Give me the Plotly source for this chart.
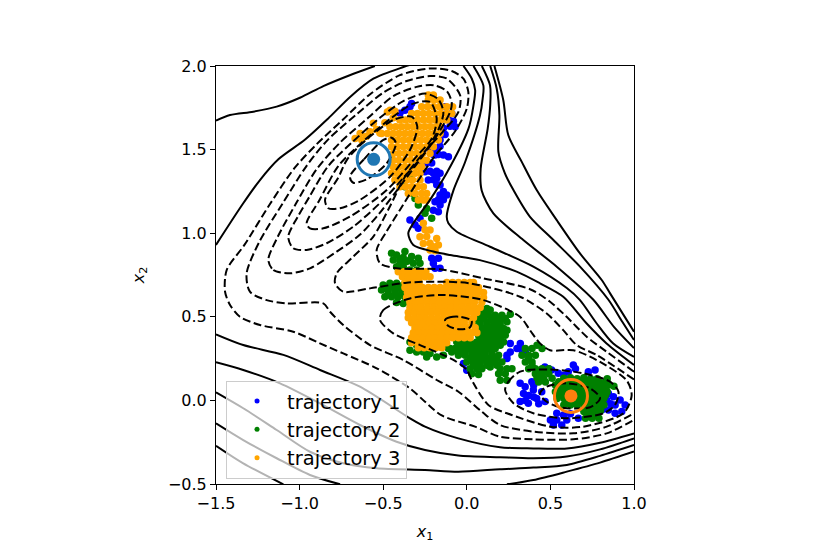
import plotly.graph_objects as go

# contour lines, (x1, x2) pairs
solid_top_left = [(-1.5, 1.673), (-1.416, 1.707), (-1.277, 1.727), (-1.137, 1.757), (-0.998, 1.81), (-0.858, 1.88),
                  (-0.70, 1.945), (-0.55, 2.0)]
solid_left_arc = [(-1.5, 0.93), (-1.337, 1.179), (-1.237, 1.318), (-1.127, 1.442), (-0.967, 1.56), (-0.83, 1.685),
                  (-0.698, 1.815), (-0.559, 1.924), (-0.379, 1.994), (-0.33, 2.01)]
solid_l5 = [(-0.02, 2.0), (0.03, 1.924), (0.05, 1.855), (0.04, 1.765), (0.01, 1.625), (-0.121, 1.358), (-0.221, 1.198),
            (-0.32, 1.059), (-0.35, 0.999), (-0.32, 0.929), (-0.2, 0.89), (-0.10, 0.869), (0.078, 0.839), (0.298, 0.77),
            (0.438, 0.70), (0.577, 0.62), (0.717, 0.46), (0.836, 0.341), (1.0, 0.212)]
solid_a = [(0.04, 2.0), (0.099, 1.884), (0.095, 1.805), (0.079, 1.705), (-0.01, 1.426), (-0.08, 1.256), (-0.12, 1.098),
           (-0.11, 1.059), (-0.06, 1.009), (0.139, 0.919), (0.398, 0.80), (0.598, 0.672), (0.677, 0.60), (0.777, 0.46),
           (0.876, 0.34), (1.0, 0.26)]
solid_b = [(0.09, 2.0), (0.139, 1.884), (0.14, 1.765), (0.125, 1.625), (0.083, 1.386), (0.089, 1.256), (0.159, 1.118),
           (0.338, 0.959), (0.538, 0.80), (0.757, 0.602), (0.88, 0.44), (1.0, 0.313)]
solid_c = [(0.14, 2.0), (0.179, 1.864), (0.195, 1.705), (0.189, 1.486), (0.228, 1.358), (0.279, 1.258), (0.378, 1.098),
           (0.518, 0.959), (0.677, 0.80), (0.847, 0.602), (0.93, 0.47), (1.0, 0.361)]
solid_d = [(0.165, 2.0), (0.218, 1.797), (0.248, 1.587), (0.328, 1.428), (0.418, 1.258), (0.538, 1.078), (0.677, 0.879),
           (0.807, 0.72), (0.857, 0.64), (1.0, 0.411)]
solid_low_a = [(-1.5, 0.395), (-1.337, 0.331), (-1.097, 0.272), (-0.878, 0.182), (-0.639, 0.082), (-0.34, -0.107),
               (-0.25, -0.157), (-0.051, -0.227), (0.199, -0.28), (0.398, -0.287), (0.598, -0.287), (0.797, -0.253),
               (1.0, -0.197)]
solid_low_b = [(-1.5, 0.228), (-1.337, 0.182), (-1.117, 0.102), (-0.878, -0.018), (-0.639, -0.147), (-0.42, -0.247),
               (-0.25, -0.297), (-0.051, -0.33), (0.199, -0.34), (0.398, -0.346), (0.598, -0.336), (0.797, -0.293),
               (1.0, -0.227)]
solid_low_c = [(-1.5, 0.048), (-1.337, -0.047), (-1.137, -0.177), (-0.938, -0.307), (-0.739, -0.376), (-0.539, -0.406),
               (-0.25, -0.416), (-0.051, -0.426), (0.199, -0.412), (0.398, -0.402), (0.598, -0.386), (0.797, -0.332),
               (1.0, -0.267)]
solid_low_d1 = [(-1.5, -0.137), (-1.337, -0.237), (-1.137, -0.346), (-0.938, -0.446), (-0.758, -0.502)]
solid_low_d2 = [(0.24, -0.502), (0.398, -0.476), (0.598, -0.426), (0.797, -0.372), (1.0, -0.306)]
solid_low_e = [(-1.5, -0.271), (-1.337, -0.376), (-1.097, -0.502)]

dash_m20 = [(1.0, 0.172), (0.836, 0.291), (0.717, 0.381), (0.597, 0.50), (0.498, 0.59), (0.378, 0.665), (0.099, 0.73),
            (-0.16, 0.784), (-0.42, 0.79), (-0.519, 0.82), (-0.539, 0.90), (-0.48, 1.01), (-0.40, 1.139), (-0.30, 1.30),
            (-0.2, 1.45), (-0.07, 1.61), (0.0, 1.745), (0.009, 1.845), (-0.02, 1.924), (-0.09, 1.97), (-0.22, 1.985),
            (-0.40, 1.945), (-0.58, 1.83), (-0.74, 1.68), (-0.90, 1.53), (-1.03, 1.39), (-1.18, 1.17), (-1.33, 0.93),
            (-1.436, 0.78), (-1.446, 0.65), (-1.416, 0.571), (-1.357, 0.5), (-1.237, 0.451),
            (-1.038, 0.411), (-0.878, 0.341), (-0.739, 0.281), (-0.539, 0.192), (-0.34, 0.072), (-0.25, -0.008),
            (-0.15, -0.09), (0.049, -0.157), (0.199, -0.217), (0.398, -0.233), (0.638, -0.233), (0.837, -0.197),
            (1.0, -0.117)]
dash_m40 = [(1.0, 0.125), (0.777, 0.271), (0.657, 0.331), (0.577, 0.42), (0.478, 0.52), (0.318, 0.62), (0.019, 0.70),
            (-0.18, 0.71), (-0.36, 0.704), (-0.579, 0.67), (-0.739, 0.65), (-0.788, 0.70), (-0.778, 0.76), (-0.679, 0.86),
            (-0.559, 0.98), (-0.46, 1.16), (-0.37, 1.338), (-0.25, 1.49), (-0.14, 1.61), (-0.05, 1.725), (-0.04, 1.825),
            (-0.12, 1.925), (-0.22, 1.94), (-0.36, 1.91), (-0.50, 1.84), (-0.66, 1.71), (-0.83, 1.56), (-0.96, 1.40),
            (-1.10, 1.18), (-1.24, 0.95), (-1.317, 0.76), (-1.297, 0.65),
            (-1.197, 0.60), (-1.078, 0.58), (-0.858, 0.58), (-0.818, 0.53), (-0.739, 0.451), (-0.579, 0.331),
            (-0.38, 0.242), (-0.18, 0.122), (-0.05, 0.052), (0.089, -0.067), (0.199, -0.147), (0.398, -0.187),
            (0.638, -0.197), (0.837, -0.157), (1.0, -0.077)]
dash_m60_top = [(-1.187, 0.84), (-1.157, 0.78), (-1.058, 0.76), (-0.938, 0.79), (-0.778, 0.89), (-0.64, 0.99),
                (-0.53, 1.11), (-0.43, 1.24), (-0.31, 1.40), (-0.2, 1.55), (-0.10, 1.725), (-0.09, 1.78), (-0.12, 1.85),
                (-0.2, 1.885), (-0.30, 1.875), (-0.44, 1.82), (-0.59, 1.69), (-0.76, 1.54), (-0.90, 1.38), (-1.02, 1.18),
                (-1.13, 0.98), (-1.187, 0.84)]
dash_m60_low = [(-0.519, 0.481), (-0.5, 0.54), (-0.34, 0.61), (-0.14, 0.63), (0.099, 0.60), (0.318, 0.50), (0.378, 0.42),
                (0.438, 0.341), (0.498, 0.30), (0.637, 0.30), (0.777, 0.241), (0.956, 0.12), (0.986, 0.03), (0.937, -0.077),
                (0.697, -0.157), (0.498, -0.157), (0.268, -0.087), (0.129, -0.027), (0.029, 0.122), (0.0, 0.182),
                (-0.08, 0.242), (-0.28, 0.331), (-0.44, 0.401), (-0.519, 0.481)]
dash_m80_top = [(-1.068, 0.979), (-1.038, 0.91), (-0.958, 0.90), (-0.838, 0.94), (-0.679, 1.039), (-0.5, 1.199),
                (-0.38, 1.33), (-0.26, 1.47), (-0.17, 1.62), (-0.14, 1.72), (-0.17, 1.80), (-0.25, 1.835), (-0.38, 1.79),
                (-0.52, 1.69), (-0.69, 1.54), (-0.83, 1.40), (-0.94, 1.22), (-1.01, 1.10), (-1.068, 0.979)]
dash_m80_mid = [(-0.13, 0.481), (-0.10, 0.497), (-0.04, 0.50), (0.029, 0.477), (0.019, 0.437), (-0.04, 0.425), (-0.11, 0.445),
                (-0.13, 0.481)]
dash_m80_low = [(0.229, 0.062), (0.249, 0.112), (0.319, 0.172), (0.498, 0.185), (0.697, 0.162), (0.857, 0.112), (0.907, 0.052),
                (0.887, -0.027), (0.817, -0.077), (0.598, -0.107), (0.398, -0.077), (0.279, -0.017), (0.229, 0.062)]
dash_m100_top = [(-0.958, 1.059), (-0.938, 1.029), (-0.858, 1.029), (-0.699, 1.099), (-0.479, 1.258), (-0.3, 1.46),
                 (-0.21, 1.565), (-0.18, 1.685), (-0.22, 1.785), (-0.32, 1.775), (-0.45, 1.69), (-0.63, 1.54),
                 (-0.77, 1.40), (-0.88, 1.20), (-0.958, 1.059)]
dash_m100_low = [(0.438, 0.042), (0.478, 0.082), (0.598, 0.102), (0.737, 0.072), (0.797, 0.013), (0.737, -0.041),
                 (0.558, -0.041), (0.468, -0.001), (0.438, 0.042)]
dash_m120 = [(-0.848, 1.199), (-0.828, 1.149), (-0.758, 1.149), (-0.639, 1.199), (-0.459, 1.338), (-0.34, 1.498),
             (-0.296, 1.637), (-0.33, 1.697), (-0.44, 1.677), (-0.60, 1.56), (-0.715, 1.442), (-0.77, 1.33),
             (-0.848, 1.199)]
dash_m140 = [(-0.699, 1.338), (-0.615, 1.442), (-0.499, 1.558), (-0.45, 1.571), (-0.424, 1.538), (-0.479, 1.418),
             (-0.599, 1.322), (-0.679, 1.302), (-0.699, 1.338)]

solid_paths = [solid_top_left, solid_left_arc, solid_l5, solid_a, solid_b, solid_c, solid_d, solid_low_a, solid_low_b,
               solid_low_c, solid_low_d1, solid_low_d2, solid_low_e]
dash_paths = [dash_m20, dash_m40, dash_m60_top, dash_m60_low, dash_m80_top, dash_m80_mid, dash_m80_low, dash_m100_top,
              dash_m100_low, dash_m120, dash_m140]

# trajectory samples, estimated from the blobs in the picture
traj1 = [(-0.40, 1.717), (-0.37, 1.735), (-0.34, 1.756), (-0.33, 1.776), (-0.13, 1.756), (-0.09, 1.716), (-0.07, 1.637),
         (-0.11, 1.68), (-0.08, 1.67), (-0.10, 1.64),
         (-0.14, 1.627), (-0.16, 1.597), (-0.13, 1.59), (-0.16, 1.557), (-0.18, 1.497), (-0.22, 1.497), (-0.18, 1.507),
         (-0.14, 1.467), (-0.16, 1.52), (-0.20, 1.47), (-0.17, 1.47),
         (-0.11, 1.457), (-0.19, 1.467), (-0.27, 1.418), (-0.24, 1.42), (-0.21, 1.42), (-0.25, 1.368), (-0.20, 1.358), (-0.16, 1.358),
         (-0.23, 1.318), (-0.22, 1.37), (-0.18, 1.37), (-0.20, 1.32),
         (-0.18, 1.328), (-0.16, 1.288), (-0.18, 1.29), (-0.16, 1.228), (-0.12, 1.228), (-0.14, 1.25), (-0.19, 1.188), (-0.16, 1.168),
         (-0.17, 1.20), (-0.20, 1.138), (-0.14, 1.20),
         (-0.17, 1.128), (-0.34, 1.079), (-0.29, 1.029), (-0.28, 1.089), (-0.31, 1.05), (-0.21, 0.85), (-0.17, 0.85),
         (-0.20, 0.82), (-0.16, 0.79), (-0.19, 0.79), (-0.02, 0.22), (0.0, 0.18), (0.26, 0.34), (0.32, 0.34), (0.24, 0.27),
         (0.33, 0.30), (0.35, 0.29), (0.26, 0.29), (0.24, 0.25), (0.30, 0.31), (0.319, 0.102), (0.349, 0.082), (0.389, 0.112),
         (0.398, 0.062), (0.339, 0.042), (0.319, -0.007), (0.368, -0.017), (0.418, 0.012), (0.448, 0.052), (0.468, -0.007),
         (0.37, 0.03), (0.40, 0.09), (0.35, 0.0), (0.40, 0.02), (0.43, -0.02), (0.538, -0.077), (0.578, -0.087), (0.518, -0.147), (0.568, -0.147), (0.538, -0.117),
         (0.598, -0.117), (0.50, -0.117), (0.667, -0.107), (0.62, -0.08), (0.847, 0.042), (0.877, 0.022), (0.837, 0.002),
         (0.887, -0.027), (0.917, 0.002), (0.947, -0.027), (0.927, -0.067), (0.887, -0.077), (0.847, -0.057), (0.807, -0.057),
         (0.86, -0.02), (0.637, 0.212), (0.607, 0.172), (0.727, 0.172), (0.767, 0.182), (0.507, 0.182), (0.467, 0.20),
         (0.547, 0.162), (0.65, 0.19), (0.49, 0.19), (0.58, 0.15)]
traj2 = [(-0.34, 1.338), (-0.37, 1.278), (-0.31, 1.208), (-0.33, 1.24), (-0.24, 1.148), (-0.21, 1.089), (-0.25, 1.119),
         (-0.29, 1.168),
         (-0.45, 0.88), (-0.42, 0.87), (-0.37, 0.89), (-0.33, 0.86), (-0.29, 0.85), (-0.44, 0.84), (-0.40, 0.84), (-0.36, 0.83),
         (-0.32, 0.82), (-0.28, 0.82), (-0.42, 0.80), (-0.38, 0.80), (-0.34, 0.78), (-0.30, 0.78),
         (-0.50, 0.69), (-0.46, 0.70), (-0.42, 0.70), (-0.38, 0.69), (-0.51, 0.66), (-0.47, 0.66), (-0.43, 0.66), (-0.39, 0.66),
         (-0.49, 0.62), (-0.45, 0.62), (-0.41, 0.62), (-0.37, 0.62), (-0.42, 0.585), (-0.38, 0.58),
         (-0.34, 0.35), (-0.30, 0.33), (-0.34, 0.30), (-0.30, 0.29), (-0.26, 0.29), (-0.22, 0.28), (-0.18, 0.26), (-0.24, 0.26),
         (-0.14, 0.27), (-0.10, 0.31),
         (0.08, 0.55), (0.12, 0.55), (0.14, 0.54), (0.05, 0.51), (0.09, 0.51), (0.13, 0.51), (0.17, 0.51), (0.21, 0.51), (0.26, 0.515),
         (0.04, 0.47), (0.08, 0.47), (0.12, 0.47), (0.16, 0.47), (0.20, 0.47), (0.24, 0.47),
         (0.06, 0.43), (0.10, 0.43), (0.14, 0.43), (0.18, 0.43), (0.22, 0.43), (0.24, 0.42),
         (0.07, 0.39), (0.11, 0.39), (0.15, 0.39), (0.19, 0.39), (0.23, 0.39),
         (-0.06, 0.35), (-0.02, 0.35), (0.02, 0.35), (0.06, 0.35), (0.10, 0.35), (0.14, 0.35), (0.18, 0.35), (0.22, 0.35),
         (-0.11, 0.31), (-0.07, 0.31), (-0.03, 0.31), (0.01, 0.31), (0.05, 0.31), (0.09, 0.31), (0.13, 0.31), (0.17, 0.31),
         (-0.05, 0.27), (-0.01, 0.27), (0.03, 0.27), (0.07, 0.27), (0.11, 0.27), (0.15, 0.27), (0.19, 0.27),
         (0.0, 0.23), (0.04, 0.23), (0.08, 0.23), (0.12, 0.23), (0.16, 0.23), (0.21, 0.23),
         (0.02, 0.19), (0.06, 0.19), (0.09, 0.19), (0.14, 0.20), (0.20, 0.19), (0.24, 0.19), (0.27, 0.19),
         (0.03, 0.16), (0.07, 0.155), (0.19, 0.16), (0.23, 0.16), (0.20, 0.12), (0.24, 0.12),
         (0.35, 0.31), (0.39, 0.31), (0.42, 0.33), (0.45, 0.31), (0.33, 0.27), (0.37, 0.27), (0.41, 0.27), (0.35, 0.23),
         (0.39, 0.23), (0.37, 0.19), (0.41, 0.19), (0.45, 0.19), (0.49, 0.19), (0.41, 0.16), (0.45, 0.15), (0.49, 0.16),
         (0.43, 0.11), (0.47, 0.11),
         (0.42, 0.135), (0.46, 0.13), (0.51, 0.132), (0.58, 0.132), (0.62, 0.135), (0.66, 0.13), (0.70, 0.135), (0.74, 0.13), (0.78, 0.13),
         (0.84, 0.13), (0.53, 0.092), (0.57, 0.092), (0.61, 0.092), (0.65, 0.092), (0.69, 0.092), (0.73, 0.092), (0.77, 0.092),
         (0.81, 0.092), (0.85, 0.092), (0.88, 0.085), (0.53, 0.052), (0.57, 0.052), (0.61, 0.052), (0.65, 0.052), (0.69, 0.052),
         (0.73, 0.052), (0.77, 0.052), (0.81, 0.052), (0.84, 0.052), (0.54, 0.012), (0.58, 0.012), (0.62, 0.012), (0.66, 0.012),
         (0.70, 0.012), (0.74, 0.012), (0.78, 0.012), (0.82, 0.012), (0.58, -0.027), (0.62, -0.027), (0.66, -0.027), (0.70, -0.027),
         (0.74, -0.027), (0.78, -0.027), (0.82, -0.027), (0.70, -0.067), (0.74, -0.067), (0.78, -0.067), (0.80, -0.06),
         (0.71, -0.107), (0.75, -0.107), (0.79, -0.107),
         # denser patches between the samples above
         (0.07, 0.53), (0.11, 0.53), (0.15, 0.49), (0.19, 0.49), (0.23, 0.49), (0.06, 0.49), (0.10, 0.49), (0.08, 0.45), (0.12, 0.45),
         (0.16, 0.45), (0.20, 0.45), (0.09, 0.41), (0.13, 0.41), (0.17, 0.41), (0.21, 0.41), (0.08, 0.37), (0.12, 0.37), (0.16, 0.37),
         (0.20, 0.37), (-0.04, 0.33), (0.0, 0.33), (0.04, 0.33), (0.08, 0.33), (0.12, 0.33), (0.16, 0.33), (0.20, 0.33), (-0.09, 0.29),
         (-0.05, 0.29), (-0.01, 0.29), (0.03, 0.29), (0.07, 0.29), (0.11, 0.29), (0.15, 0.29), (0.02, 0.25), (0.06, 0.25), (0.10, 0.25),
         (0.14, 0.25), (0.18, 0.25), (0.04, 0.21), (0.08, 0.21), (0.12, 0.21), (0.18, 0.21), (0.37, 0.25), (0.39, 0.21), (0.43, 0.175),
         (0.47, 0.175), (0.55, 0.112), (0.59, 0.112), (0.63, 0.112), (0.67, 0.112), (0.71, 0.112), (0.75, 0.112), (0.79, 0.112),
         (0.83, 0.112), (0.55, 0.072), (0.59, 0.072), (0.63, 0.072), (0.67, 0.072), (0.71, 0.072), (0.75, 0.072), (0.79, 0.072),
         (0.83, 0.072), (0.55, 0.032), (0.59, 0.032), (0.63, 0.032), (0.67, 0.032), (0.71, 0.032), (0.75, 0.032), (0.79, 0.032),
         (0.83, 0.032), (0.60, -0.007), (0.64, -0.007), (0.68, -0.007), (0.72, -0.007), (0.76, -0.007), (0.80, -0.007),
         (0.72, -0.047), (0.76, -0.047), (0.79, -0.047), (0.73, -0.087), (0.77, -0.087),
         (-0.43, 0.64), (-0.47, 0.64), (-0.39, 0.64), (-0.40, 0.68), (-0.44, 0.68), (-0.48, 0.68), (-0.38, 0.855), (-0.34, 0.84), (-0.40, 0.82)]
traj3 = [(-0.668, 1.567), (-0.638, 1.597), (-0.628, 1.557), (-0.60, 1.58), (-0.579, 1.607), (-0.559, 1.657), (-0.54, 1.62),
         (-0.475, 1.725), (-0.459, 1.736), (-0.43, 1.73), (-0.52, 1.60), (-0.49, 1.66), (-0.44, 1.69),
         (-0.23, 1.826), (-0.20, 1.826), (-0.23, 1.796), (-0.195, 1.796), (-0.16, 1.796),
         (-0.27, 1.756), (-0.235, 1.756), (-0.20, 1.756), (-0.165, 1.756), (-0.15, 1.756), (-0.12, 1.756), (-0.085, 1.756),
         (-0.33, 1.716), (-0.295, 1.716), (-0.26, 1.716), (-0.225, 1.716), (-0.19, 1.716), (-0.155, 1.716), (-0.12, 1.716), (-0.09, 1.716),
         (-0.40, 1.677), (-0.365, 1.677), (-0.33, 1.677), (-0.295, 1.677), (-0.26, 1.677), (-0.225, 1.677), (-0.19, 1.677), (-0.155, 1.677), (-0.12, 1.677),
         (-0.46, 1.637), (-0.425, 1.637), (-0.39, 1.637), (-0.355, 1.637), (-0.32, 1.637), (-0.285, 1.637), (-0.25, 1.637), (-0.215, 1.637), (-0.18, 1.637), (-0.16, 1.637),
         (-0.51, 1.597), (-0.475, 1.597), (-0.44, 1.597), (-0.405, 1.597), (-0.37, 1.597), (-0.335, 1.597), (-0.30, 1.597), (-0.265, 1.597), (-0.23, 1.597), (-0.195, 1.597), (-0.16, 1.597),
         (-0.45, 1.557), (-0.415, 1.557), (-0.38, 1.557), (-0.345, 1.557), (-0.31, 1.557), (-0.275, 1.557), (-0.24, 1.557), (-0.205, 1.557), (-0.17, 1.557),
         (-0.45, 1.517), (-0.415, 1.517), (-0.38, 1.517), (-0.345, 1.517), (-0.31, 1.517), (-0.275, 1.517), (-0.24, 1.517), (-0.20, 1.517),
         (-0.44, 1.477), (-0.405, 1.477), (-0.37, 1.477), (-0.335, 1.477), (-0.30, 1.477), (-0.265, 1.477), (-0.22, 1.477),
         (-0.44, 1.437), (-0.405, 1.437), (-0.37, 1.437), (-0.335, 1.437), (-0.30, 1.437), (-0.265, 1.437), (-0.24, 1.437),
         (-0.44, 1.397), (-0.405, 1.397), (-0.37, 1.397), (-0.335, 1.397), (-0.30, 1.397), (-0.27, 1.397),
         (-0.45, 1.358), (-0.415, 1.358), (-0.38, 1.358), (-0.345, 1.358), (-0.31, 1.358), (-0.28, 1.358),
         (-0.43, 1.318), (-0.395, 1.318), (-0.36, 1.318), (-0.325, 1.318), (-0.28, 1.318),
         (-0.40, 1.278), (-0.365, 1.278), (-0.33, 1.278), (-0.295, 1.278), (-0.26, 1.278),
         (-0.35, 1.238), (-0.31, 1.238), (-0.27, 1.238), (-0.24, 1.238),
         (-0.29, 1.198), (-0.26, 1.198), (-0.24, 1.198),
         (-0.26, 1.06), (-0.22, 1.019), (-0.25, 1.02), (-0.28, 0.979), (-0.24, 0.98), (-0.18, 0.969), (-0.26, 0.939), (-0.22, 0.94),
         (-0.20, 0.919), (-0.17, 0.93), (-0.22, 0.90), (-0.19, 0.895),
         (-0.41, 0.77), (-0.375, 0.77), (-0.34, 0.77), (-0.305, 0.77), (-0.27, 0.77), (-0.245, 0.77),
         (-0.385, 0.74), (-0.35, 0.74), (-0.315, 0.74), (-0.28, 0.74), (-0.25, 0.74), (-0.22, 0.74),
         (-0.37, 0.705), (-0.335, 0.705), (-0.30, 0.705), (-0.285, 0.705), (-0.12, 0.705), (-0.085, 0.705), (-0.05, 0.705), (-0.015, 0.705), (0.02, 0.705), (0.04, 0.705),
         (-0.37, 0.675), (-0.335, 0.675), (-0.30, 0.675), (-0.265, 0.675), (-0.23, 0.675), (-0.195, 0.675), (-0.16, 0.675), (-0.125, 0.675), (-0.09, 0.675), (-0.055, 0.675), (-0.02, 0.675), (0.015, 0.675), (0.05, 0.675), (0.07, 0.675),
         (-0.355, 0.645), (-0.32, 0.645), (-0.285, 0.645), (-0.25, 0.645), (-0.215, 0.645), (-0.18, 0.645), (-0.145, 0.645), (-0.11, 0.645), (-0.075, 0.645), (-0.04, 0.645), (-0.005, 0.645), (0.03, 0.645), (0.065, 0.645), (0.10, 0.645),
         (-0.36, 0.615), (-0.325, 0.615), (-0.29, 0.615), (-0.255, 0.615), (-0.22, 0.615), (-0.185, 0.615), (-0.15, 0.615), (-0.115, 0.615), (-0.08, 0.615), (-0.045, 0.615), (-0.01, 0.615), (0.025, 0.615), (0.06, 0.615), (0.10, 0.615),
         (-0.34, 0.585), (-0.305, 0.585), (-0.27, 0.585), (-0.235, 0.585), (-0.20, 0.585), (-0.165, 0.585), (-0.13, 0.585), (-0.095, 0.585), (-0.06, 0.585), (-0.025, 0.585), (0.01, 0.585), (0.045, 0.585), (0.09, 0.585),
         (-0.34, 0.555), (-0.305, 0.555), (-0.27, 0.555), (-0.235, 0.555), (-0.20, 0.555), (-0.165, 0.555), (-0.13, 0.555), (-0.095, 0.555), (-0.06, 0.555), (-0.025, 0.555), (0.01, 0.555), (0.045, 0.555), (0.08, 0.555),
         (-0.35, 0.525), (-0.315, 0.525), (-0.28, 0.525), (-0.245, 0.525), (-0.21, 0.525), (-0.175, 0.525), (-0.14, 0.525), (-0.105, 0.525), (-0.07, 0.525), (-0.035, 0.525), (0.0, 0.525), (0.035, 0.525), (0.06, 0.525),
         (-0.35, 0.495), (-0.315, 0.495), (-0.28, 0.495), (-0.245, 0.495), (-0.21, 0.495), (-0.175, 0.495), (-0.14, 0.495), (-0.105, 0.495), (-0.07, 0.495), (-0.035, 0.495), (0.0, 0.495), (0.04, 0.495),
         (-0.33, 0.465), (-0.295, 0.465), (-0.26, 0.465), (-0.225, 0.465), (-0.19, 0.465), (-0.155, 0.465), (-0.12, 0.465), (-0.085, 0.465), (-0.05, 0.465), (-0.015, 0.465), (0.03, 0.465),
         (-0.31, 0.435), (-0.275, 0.435), (-0.24, 0.435), (-0.205, 0.435), (-0.17, 0.435), (-0.135, 0.435), (-0.10, 0.435), (-0.065, 0.435), (-0.03, 0.435), (0.005, 0.435), (0.05, 0.435),
         (-0.32, 0.405), (-0.285, 0.405), (-0.25, 0.405), (-0.215, 0.405), (-0.18, 0.405), (-0.145, 0.405), (-0.11, 0.405), (-0.075, 0.405), (-0.04, 0.405), (-0.005, 0.405), (0.03, 0.405), (0.06, 0.405),
         (-0.33, 0.375), (-0.295, 0.375), (-0.26, 0.375), (-0.225, 0.375), (-0.19, 0.375), (-0.155, 0.375), (-0.12, 0.375), (-0.085, 0.375), (-0.05, 0.375), (-0.015, 0.375), (0.02, 0.375),
         (-0.33, 0.345), (-0.295, 0.345), (-0.26, 0.345), (-0.225, 0.345), (-0.19, 0.345), (-0.155, 0.345), (-0.12, 0.345),
         (-0.29, 0.315), (-0.255, 0.315), (-0.22, 0.315), (-0.185, 0.315), (-0.15, 0.315)]

minima_x = [-0.557, 0.623]
minima_y = [1.442, 0.027]
minima_colors = ["#1f77b4", "#ff7f0e"]
traj_names = ["trajectory 1", "trajectory 2", "trajectory 3"]
traj_colors = ["#0000ff", "#008000", "#ffa500"]
x_ticks = [-1.5, -1.0, -0.5, 0.0, 0.5, 1.0]
y_ticks = [-0.5, 0.0, 0.5, 1.0, 1.5, 2.0]

FONT = "DejaVu Sans"

fig = go.Figure()

for pts, name, color in zip([traj1, traj2, traj3], traj_names, traj_colors):
    fig.add_trace(
        go.Scatter(
            x=[p[0] for p in pts], y=[p[1] for p in pts], mode="markers", name=name, showlegend=False,
            marker=dict(color=color, size=7.5, line=dict(width=0)),
        )
    )

# contours sit above the samples
for path in solid_paths:
    fig.add_trace(
        go.Scatter(
            x=[p[0] for p in path], y=[p[1] for p in path], mode="lines", showlegend=False, hoverinfo="skip",
            line=dict(color="black", width=2, shape="spline", smoothing=0.8),
        )
    )
for path in dash_paths:
    fig.add_trace(
        go.Scatter(
            x=[p[0] for p in path], y=[p[1] for p in path], mode="lines", showlegend=False, hoverinfo="skip",
            line=dict(color="black", width=2, dash="8px,3.5px", shape="spline", smoothing=0.8),
        )
    )

for mx, my, color in zip(minima_x, minima_y, minima_colors):
    fig.add_trace(
        go.Scatter(x=[mx], y=[my], mode="markers", showlegend=False, marker=dict(color=color, size=13, line=dict(width=0)))
    )
    fig.add_trace(
        go.Scatter(
            x=[mx], y=[my], mode="markers", showlegend=False,
            marker=dict(symbol="circle-open", color=color, size=33, line=dict(color=color, width=3)),
        )
    )

# legend entries with the smaller marker
for name, color in zip(traj_names, traj_colors):
    fig.add_trace(go.Scatter(x=[None], y=[None], mode="markers", name=name, marker=dict(color=color, size=5)))

axis_style = dict(
    showgrid=False, zeroline=False, showline=True, mirror=True, linecolor="black", linewidth=1, ticks="outside",
    ticklen=5, tickwidth=1, tickcolor="black", tickformat=".1f", tickfont=dict(family=FONT, size=16, color="black"),
)
fig.update_xaxes(
    range=[-1.5, 1.0], tickvals=x_ticks, title=dict(text="<i>x</i><sub>1</sub>", standoff=13, font=dict(family=FONT, size=16)),
    **axis_style
)
fig.update_yaxes(
    range=[-0.5, 2.0], tickvals=y_ticks, title=dict(text="<i>x</i><sub>2</sub>", standoff=19, font=dict(family=FONT, size=16)),
    **axis_style
)

# the page adds an 8px body margin, so the figure is 8px smaller and its margins are pulled in
fig.update_layout(
    width=822, height=546, margin=dict(l=208, r=196, t=58, b=70), plot_bgcolor="white", paper_bgcolor="white",
    font=dict(family=FONT, color="black"),
    legend=dict(
        x=0.024, y=0.247, xanchor="left", yanchor="top", bgcolor="rgba(255,255,255,0.7)", bordercolor="#cccccc", borderwidth=1,
        font=dict(family=FONT, size=19.5), itemwidth=50, tracegroupgap=0,
    ),
)

fig.write_html("out.html")
